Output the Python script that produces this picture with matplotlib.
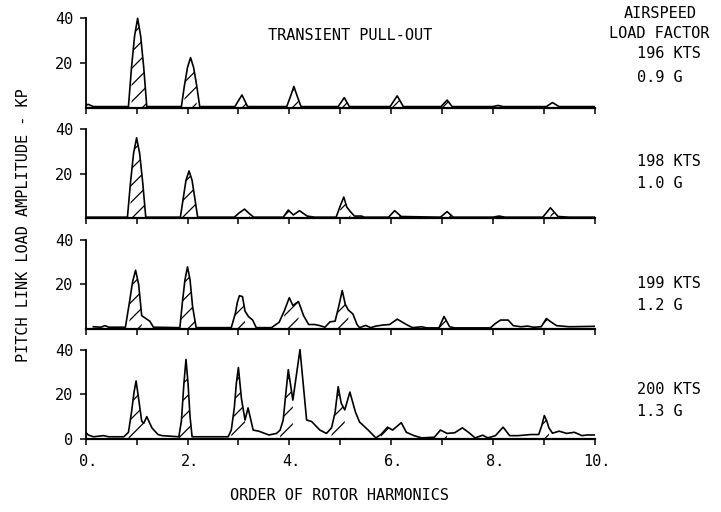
import matplotlib
matplotlib.use("Agg")
import matplotlib.pyplot as plt
import matplotlib.transforms as mtrans
import numpy as np

## plotter-style lettering: a monospaced sans is the closest thing installed
FONT, FS = 'DejaVu Sans Mono', 11
plt.rcParams['font.family'] = FONT
plt.rcParams['hatch.linewidth'] = 0.9

## Data: (harmonic order, amplitude in kP)
conditions = [("196 KTS", "0.9 G"), ("198 KTS", "1.0 G"), ("199 KTS", "1.2 G"), ("200 KTS", "1.3 G")]

# 196 kts, 0.9 g
p1_pts = [(0.0, 1.0), (0.05, 1.5), (0.15, 0.5), (0.84, 0.5), (0.9, 18.0), (0.96, 32.0), (1.02, 40.0),
          (1.08, 32.0), (1.14, 18.0), (1.2, 0.5), (1.88, 0.5), (1.94, 10.0), (2.0, 18.0), (2.06, 22.4),
          (2.12, 18.0), (2.18, 10.0), (2.24, 0.5), (2.93, 0.5), (3.07, 5.7), (3.18, 0.5), (3.95, 0.5),
          (4.03, 5.5), (4.09, 9.5), (4.15, 5.5), (4.23, 0.5), (4.96, 0.5), (5.08, 4.5), (5.18, 0.5),
          (5.98, 0.5), (6.12, 5.3), (6.24, 0.5), (6.98, 0.5), (7.1, 3.4), (7.2, 0.5), (8.0, 0.5),
          (8.1, 1.0), (8.2, 0.5), (9.05, 0.5), (9.17, 2.3), (9.3, 0.5), (10.0, 0.5)]
p1_peaks = [1.02, 2.06, 3.07, 4.09, 5.08, 6.12, 7.1, 9.17]

# 198 kts, 1.0 g
p2_pts = [(0.0, 0.5), (0.82, 0.5), (0.88, 16.0), (0.94, 29.0), (1.0, 36.0), (1.06, 29.0), (1.12, 16.0),
          (1.18, 0.5), (1.86, 0.5), (1.92, 9.5), (1.97, 17.0), (2.03, 21.2), (2.09, 17.0), (2.14, 9.5),
          (2.2, 0.5), (2.92, 0.5), (3.02, 2.5), (3.12, 4.1), (3.22, 2.0), (3.3, 0.5), (3.88, 0.5),
          (3.98, 3.7), (4.08, 1.5), (4.2, 3.4), (4.35, 1.0), (4.5, 0.5), (4.92, 0.5), (5.0, 5.5),
          (5.07, 9.5), (5.13, 5.0), (5.2, 3.0), (5.28, 1.0), (5.42, 1.0), (5.47, 0.5), (5.95, 0.5),
          (6.07, 3.4), (6.2, 0.8), (6.97, 0.5), (7.1, 3.0), (7.22, 0.5), (8.0, 0.5), (8.12, 1.0),
          (8.24, 0.5), (8.98, 0.5), (9.13, 4.7), (9.28, 0.8), (9.5, 0.5), (10.0, 0.5)]
p2_peaks = [1.0, 2.03, 3.1, 3.98, 5.07, 6.07, 7.1, 9.13]

# 199 kts, 1.2 g
p3_pts = [(0.15, 1.0), (0.3, 0.8), (0.38, 1.5), (0.45, 0.8), (0.78, 0.8), (0.86, 12.0), (0.92, 21.0),
          (0.98, 26.3), (1.04, 20.0), (1.1, 6.0), (1.2, 4.4), (1.26, 3.5), (1.33, 0.8), (1.85, 0.6),
          (1.9, 12.0), (1.95, 22.0), (2.0, 27.8), (2.05, 22.0), (2.1, 10.0), (2.17, 0.6), (2.86, 0.6),
          (2.94, 7.0), (2.98, 12.0), (3.02, 14.9), (3.08, 14.5), (3.13, 8.0), (3.2, 5.5), (3.28, 4.0),
          (3.35, 0.6), (3.65, 0.6), (3.8, 3.0), (3.9, 8.0), (4.0, 14.0), (4.07, 10.5), (4.18, 12.3),
          (4.28, 6.0), (4.38, 2.0), (4.5, 2.0), (4.6, 1.5), (4.7, 0.8), (4.8, 3.2), (4.9, 3.5),
          (4.97, 10.0), (5.04, 17.2), (5.1, 11.0), (5.16, 8.5), (5.25, 6.7), (5.33, 2.0), (5.38, 0.6),
          (5.5, 1.6), (5.6, 0.6), (5.7, 1.3), (5.85, 1.8), (5.97, 2.0), (6.12, 4.4), (6.3, 2.0),
          (6.42, 0.6), (6.6, 1.0), (6.7, 0.5), (6.94, 0.5), (7.04, 5.6), (7.15, 1.0), (7.25, 0.5),
          (7.95, 0.5), (8.05, 2.5), (8.15, 4.0), (8.3, 4.0), (8.4, 1.5), (8.55, 1.0), (8.68, 1.3),
          (8.8, 0.8), (8.95, 1.0), (9.05, 4.7), (9.12, 3.5), (9.25, 1.5), (9.5, 1.0), (10.0, 1.2)]
p3_peaks = [0.98, 2.0, 3.02, 4.0, 5.04, 6.12, 7.04, 8.15, 9.05]

# 200 kts, 1.3 g
p4_pts = [(0.0, 3.0), (0.05, 1.8), (0.15, 1.0), (0.35, 1.5), (0.45, 1.0), (0.75, 1.0), (0.84, 3.0),
          (0.9, 12.0), (0.95, 21.0), (0.99, 26.0), (1.04, 18.0), (1.1, 8.0), (1.14, 7.0), (1.2, 10.0),
          (1.3, 5.0), (1.42, 2.0), (1.5, 1.5), (1.83, 1.0), (1.88, 8.0), (1.93, 25.0), (1.97, 35.6),
          (2.01, 25.0), (2.05, 10.0), (2.09, 1.0), (2.8, 1.0), (2.86, 4.0), (2.92, 14.0), (2.96, 25.0),
          (3.0, 32.0), (3.06, 18.0), (3.13, 8.5), (3.19, 13.9), (3.29, 4.0), (3.4, 3.5), (3.6, 1.8),
          (3.75, 2.5), (3.82, 4.0), (3.88, 8.5), (3.93, 20.0), (3.98, 31.0), (4.07, 17.4), (4.21, 40.0),
          (4.34, 8.5), (4.44, 7.8), (4.6, 4.0), (4.73, 2.5), (4.83, 5.0), (4.9, 12.0), (4.96, 23.4),
          (5.02, 16.0), (5.09, 13.0), (5.19, 21.0), (5.3, 12.0), (5.38, 7.6), (5.55, 4.0), (5.7, 0.5),
          (5.8, 2.0), (5.93, 5.3), (6.03, 4.0), (6.2, 7.3), (6.3, 3.0), (6.45, 1.5), (6.6, 0.5),
          (6.85, 0.8), (6.97, 4.0), (7.1, 2.5), (7.25, 2.8), (7.4, 5.0), (7.52, 3.0), (7.65, 0.5),
          (7.8, 1.7), (7.9, 0.5), (8.05, 1.5), (8.2, 5.3), (8.33, 1.5), (8.5, 1.5), (8.75, 2.0),
          (8.9, 2.0), (8.96, 6.0), (9.01, 10.5), (9.06, 8.0), (9.1, 5.0), (9.17, 2.6), (9.3, 3.5),
          (9.45, 2.5), (9.6, 3.0), (9.75, 1.5), (9.85, 1.8), (10.0, 1.8)]
p4_peaks = [0.99, 1.97, 3.0, 3.98, 4.96, 5.93, 6.97, 9.01]

panels = [(p1_pts, p1_peaks), (p2_pts, p2_peaks), (p3_pts, p3_peaks), (p4_pts, p4_peaks)]

x_ticks = list(range(0, 11))
x_tick_text = {0: "0.", 2: "2.", 4: "4.", 6: "6.", 8: "8.", 10: "10."}

W, H = 721, 512
fig = plt.figure(figsize=(W / 100, H / 100), dpi=100)

## panel geometry in pixels (baseline of each panel, x=0 and x=10 positions)
x0_px, x10_px = 85.7, 594.7
baselines = [107.7, 218.3, 329.0, 439.0]
px_per_kp = 2.235
ytop = 42

for i, base in enumerate(baselines):
    ax = fig.add_axes([x0_px / W, (H - base) / H, (x10_px - x0_px) / W, ytop * px_per_kp / H])
    ax.set_xlim(0, 10)
    ax.set_ylim(0, ytop)
    ax.patch.set_alpha(0)
    for s in ['top', 'right']:
        ax.spines[s].set_visible(False)
    ax.spines['left'].set_bounds(0, 40)
    ax.spines['left'].set_linewidth(1.3)
    ax.spines['bottom'].set_linewidth(1.6)

    pts, peak_x = panels[i]
    xs = np.array([p[0] for p in pts])
    ys = np.array([p[1] for p in pts])

    # hatch the area under each harmonic peak
    for c in peak_x:
        hw = 0.18 if np.interp(c, xs, ys) >= 12 else 0.15
        ax.fill_between(xs, ys, 0, where=np.abs(xs - c) <= hw, facecolor='none',
                        edgecolor='black', hatch='//', linewidth=0, zorder=2)
    ax.plot(xs, ys, color='black', linewidth=1.2, zorder=3)

    ax.set_xticks(x_ticks)
    ax.tick_params(axis='both', direction='out', length=4, width=1.1, labelsize=FS, pad=5)
    if i == 3:
        ax.set_yticks([0, 20, 40])
        ax.set_xticklabels([x_tick_text.get(t, "") for t in x_ticks])
        ax.tick_params(axis='x', pad=7)
        shift = mtrans.ScaledTranslation(2.5 / 100, 0, fig.dpi_scale_trans)
        for lab in ax.get_xticklabels():
            lab.set_transform(lab.get_transform() + shift)
    else:
        ax.set_yticks([20, 40])
        ax.set_xticklabels([])

## texts
fig.text(350 / W, 1 - 35.5 / H, "TRANSIENT PULL-OUT", ha='center', va='center', fontsize=FS)
fig.text(660 / W, 1 - 14 / H, "AIRSPEED", ha='center', va='center', fontsize=FS)
fig.text(659 / W, 1 - 34 / H, "LOAD FACTOR", ha='center', va='center', fontsize=FS)
kts_y = [54, 162, 283, 390]
g_y = [77, 184, 306, 412]
for (kts, g), yk, yg in zip(conditions, kts_y, g_y):
    fig.text(637 / W, 1 - yk / H, kts, ha='left', va='center', fontsize=FS)
    fig.text(637 / W, 1 - yg / H, g, ha='left', va='center', fontsize=FS)

fig.text(340 / W, 1 - 495 / H, "ORDER OF ROTOR HARMONICS", ha='center', va='center', fontsize=FS)
fig.text(24 / W, 1 - 225 / H, "PITCH LINK LOAD AMPLITUDE - KP", ha='center', va='center',
         rotation=90, fontsize=FS)

fig.savefig("out.png", dpi=100)
